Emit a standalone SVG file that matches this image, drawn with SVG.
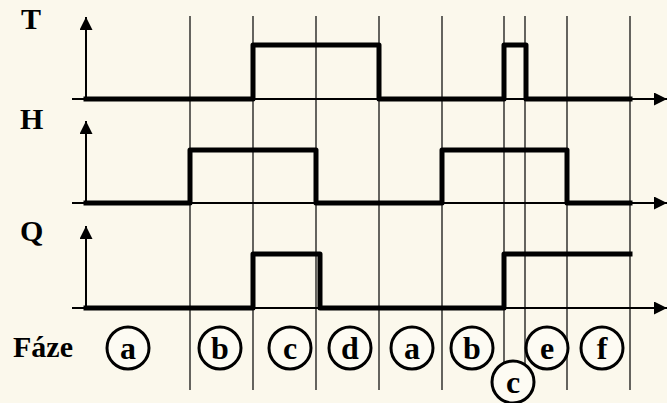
<svg xmlns="http://www.w3.org/2000/svg" width="667" height="403" viewBox="0 0 667 403">
<defs>
<style>
.grid{stroke:#000;stroke-width:1.2;fill:none}
.axis{stroke:#000;stroke-width:2;fill:none}
.sig{stroke:#000;stroke-width:5;fill:none;stroke-linejoin:round;stroke-linecap:square}
.lbl{font-family:"Liberation Serif","Times New Roman",serif;font-weight:bold;font-size:30px;fill:#000}
.ph circle{fill:#fdfbf3;stroke:#000;stroke-width:3}
.ph text{font-family:"Liberation Serif","Times New Roman",serif;font-weight:bold;font-size:32px;fill:#000;text-anchor:middle}
</style>
<marker id="arr" viewBox="0 0 10 10" refX="10" refY="5" markerWidth="6.5" markerHeight="6.5" markerUnits="strokeWidth" orient="auto">
<path d="M0,0 L10,5 L0,10 z" fill="#000"/>
</marker>
</defs>
<rect width="667" height="403" fill="#fbf8ec"/>
<g id="connectors">
<g id="grid">
<line class="grid" x1="190" y1="16" x2="190" y2="390"/>
<line class="grid" x1="253" y1="16" x2="253" y2="390"/>
<line class="grid" x1="316" y1="16" x2="316" y2="390"/>
<line class="grid" x1="379" y1="16" x2="379" y2="390"/>
<line class="grid" x1="442" y1="16" x2="442" y2="390"/>
<line class="grid" x1="504" y1="16" x2="504" y2="390"/>
<line class="grid" x1="525" y1="16" x2="525" y2="390"/>
<line class="grid" x1="567" y1="16" x2="567" y2="390"/>
<line class="grid" x1="630" y1="16" x2="630" y2="390"/>
</g>
<g id="axes">
<line class="axis" x1="86" y1="100" x2="86" y2="17" marker-end="url(#arr)"/>
<line class="axis" x1="72" y1="99" x2="667" y2="99" marker-end="url(#arr)"/>
<line class="axis" x1="86" y1="204" x2="86" y2="121" marker-end="url(#arr)"/>
<line class="axis" x1="72" y1="203" x2="667" y2="203" marker-end="url(#arr)"/>
<line class="axis" x1="86" y1="309" x2="86" y2="226" marker-end="url(#arr)"/>
<line class="axis" x1="72" y1="308" x2="667" y2="308" marker-end="url(#arr)"/>
</g>
<g id="signals">
<polyline class="sig" points="86,99 253,99 253,45 379,45 379,99 504,99 504,45 526,45 526,99 630,99"/>
<polyline class="sig" points="86,203 190,203 190,150 316,150 316,203 442,203 442,150 567,150 567,203 630,203"/>
<polyline class="sig" points="86,308 253,308 253,254 320,254 320,308 504,308 504,254 630,254"/>
</g>
</g>
<g id="label-T"><text class="lbl" x="21" y="29">T</text></g>
<g id="label-H"><text class="lbl" x="20" y="129">H</text></g>
<g id="label-Q"><text class="lbl" x="20" y="241">Q</text></g>
<g id="label-faze"><text class="lbl" x="13" y="357">Fáze</text></g>
<g id="phase-a1" class="ph"><circle cx="128" cy="348" r="21"/><text x="128" y="359">a</text></g>
<g id="phase-b1" class="ph"><circle cx="220" cy="348" r="21"/><text x="220" y="359">b</text></g>
<g id="phase-c1" class="ph"><circle cx="290" cy="348" r="21"/><text x="290" y="359">c</text></g>
<g id="phase-d" class="ph"><circle cx="350" cy="348" r="21"/><text x="350" y="359">d</text></g>
<g id="phase-a2" class="ph"><circle cx="412" cy="348" r="21"/><text x="412" y="359">a</text></g>
<g id="phase-b2" class="ph"><circle cx="472" cy="348" r="21"/><text x="472" y="359">b</text></g>
<g id="phase-e" class="ph"><circle cx="547" cy="348" r="21"/><text x="547" y="359">e</text></g>
<g id="phase-c2" class="ph"><circle cx="513" cy="382" r="21"/><text x="513" y="393">c</text></g>
<g id="phase-f" class="ph"><circle cx="602" cy="348" r="21"/><text x="602" y="359">f</text></g>
</svg>
